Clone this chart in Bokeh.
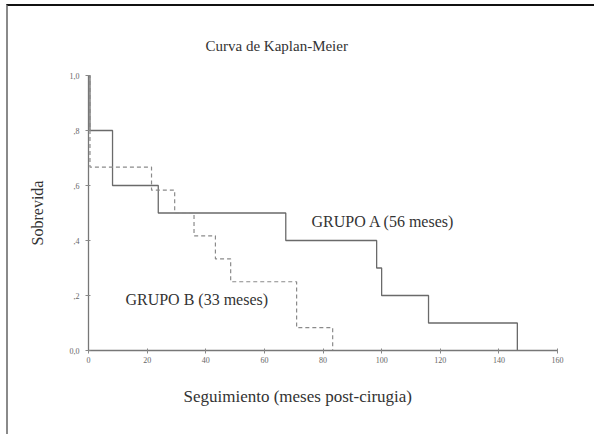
from bokeh.plotting import figure
from bokeh.models import Range1d, FixedTicker, Label, Title
from bokeh.embed import file_html
from bokeh.resources import INLINE

# --- data ---
tiempo_a = [0, 0.5, 8.2, 23.8, 67.3, 98.3, 100.0, 116.0, 146.3]
superv_a = [1.0, 0.8, 0.6, 0.5, 0.4, 0.3, 0.2, 0.1, 0.0]

tiempo_b = [0, 0.5, 21.5, 29.4, 36.0, 43.3, 48.5, 71.0, 83.3]
superv_b = [1.0, 0.667, 0.583, 0.5, 0.417, 0.333, 0.25, 0.083, 0.0]

x_ticks = [0, 20, 40, 60, 80, 100, 120, 140, 160]
y_ticks = [0.0, 0.2, 0.4, 0.6, 0.8, 1.0]
y_tick_labels = ["0,0", ",2", ",4", ",6", ",8", "1,0"]

titulo = "Curva de Kaplan-Meier"
etiqueta_x = "Seguimiento (meses post-cirugia)"
etiqueta_y = "Sobrevida"
texto_a = "GRUPO A (56 meses)"
texto_b = "GRUPO B (33 meses)"

FONT = "Liberation Serif"
TXT = "#333333"

W, H = 588, 430
p = figure(width=W, height=H, output_backend="svg", toolbar_location=None,
           x_range=Range1d(0, 160), y_range=Range1d(0, 1.0),
           min_border_left=80, min_border_right=39, min_border_top=69, min_border_bottom=86)
p.styles = {"border-left": "2px solid #8a8a8a", "border-top": "2px solid #111",
            "margin-left": "6px", "margin-top": "4px"}
p.outline_line_color = None
p.xgrid.visible = False
p.ygrid.visible = False
p.background_fill_color = "white"
p.border_fill_color = "white"

p.title = Title(text=titulo, align="left", offset=117, text_font=FONT,
                text_font_size="15px", text_font_style="normal", text_color=TXT,
                standoff=44)
p.add_layout(Title(text=etiqueta_x, align="left", offset=95, text_font=FONT,
                   text_font_size="17px", text_font_style="normal", text_color=TXT,
                   standoff=38), "below")

for ax in (p.xaxis[0], p.yaxis[0]):
    ax.axis_line_color = "#777777"
    ax.axis_line_width = 1.3
    ax.major_tick_line_color = "#888888"
    ax.major_tick_in = 2
    ax.major_tick_out = 3
    ax.minor_tick_line_color = None
    ax.major_label_text_font = FONT
    ax.major_label_text_font_size = "8px"
    ax.major_label_text_color = "#666666"

p.xaxis[0].ticker = FixedTicker(ticks=x_ticks)
p.yaxis[0].ticker = FixedTicker(ticks=y_ticks)
p.yaxis[0].major_label_overrides = {t: s for t, s in zip(y_ticks, y_tick_labels)}
p.yaxis[0].major_label_orientation = "horizontal"
p.yaxis[0].major_label_standoff = 6
p.xaxis[0].major_label_standoff = 3

p.yaxis[0].axis_label = etiqueta_y
p.yaxis[0].axis_label_text_font = FONT
p.yaxis[0].axis_label_text_font_size = "16px"
p.yaxis[0].axis_label_text_font_style = "normal"
p.yaxis[0].axis_label_text_color = TXT
p.yaxis[0].axis_label_standoff = 21

p.step(tiempo_a, superv_a, mode="after", line_color="#6a6a6a", line_width=1.3)
p.step(tiempo_b, superv_b, mode="after", line_color="#8a8a8a", line_width=1.2,
       line_dash="4 3")

p.add_layout(Label(x=76.1, y=0.469, text=texto_a, text_font=FONT, text_font_size="16px",
                   text_color=TXT, text_baseline="middle"))
p.add_layout(Label(x=12.6, y=0.185, text=texto_b, text_font=FONT, text_font_size="16px",
                   text_color=TXT, text_baseline="middle"))

open("out.html", "w").write(file_html(p, INLINE))
